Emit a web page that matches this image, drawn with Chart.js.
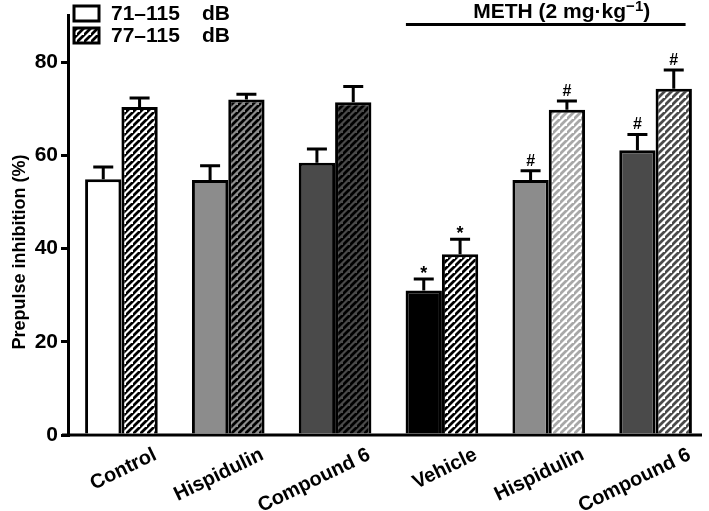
<!DOCTYPE html>
<html><head><meta charset="utf-8">
<script src="https://cdn.jsdelivr.net/npm/chart.js@4/dist/chart.umd.min.js"></script>
<style>html,body{margin:0;padding:0;background:#fff}#wrap{width:709px;height:511px;position:relative}</style>
</head><body><div id="wrap"><canvas id="c"></canvas></div>
<script>
const categories = ['Control', 'Hispidulin', 'Compound 6', 'Vehicle', 'Hispidulin', 'Compound 6'];
const seriesNames = ['71\u2013115', '77\u2013115'];
const unitLabel = 'dB';
const pi71 = [54.9, 54.7, 58.4, 31.0, 54.7, 61.1];
const err71 = [2.6, 3.1, 3.0, 2.5, 2.0, 3.4];
const pi77 = [70.4, 72.0, 71.4, 38.8, 69.8, 74.3];
const err77 = [1.9, 1.1, 3.4, 3.2, 1.9, 4.0];
const marks71 = ['', '', '', '*', '#', '#'];
const marks77 = ['', '', '', '*', '#', '#'];
const yTicks = [0, 20, 40, 60, 80];
const yTitle = 'Prepulse inhibition (%)';
const groupTitle = 'METH (2 mg\u00b7kg';
const groupSup = '\u22121';
const groupFirst = 3, groupLast = 5;

const FONT = '"Liberation Sans", Arial, Helvetica, sans-serif';
const solidColors = ['#ffffff', '#8c8c8c', '#4a4a4a', '#000000', '#8c8c8c', '#4a4a4a'];
const hatchColors = [['#ffffff', '#000000'], ['#8c8c8c', '#000000'], ['#4a4a4a', '#000000'],
                     ['#ffffff', '#000000'], ['#ffffff', '#a8a8a8'], ['#ffffff', '#4a4a4a']];

function hatch(bg, fg) {
  const p = 7;
  const t = document.createElement('canvas');
  t.width = p; t.height = p;
  const g = t.getContext('2d');
  g.fillStyle = bg; g.fillRect(0, 0, p, p);
  g.strokeStyle = fg; g.lineWidth = 2.8; g.lineCap = 'square';
  g.beginPath();
  g.moveTo(-1, p + 1); g.lineTo(p + 1, -1);
  g.moveTo(-1 - p, p + 1); g.lineTo(1, -1);
  g.moveTo(p - 1, 2 * p + 1); g.lineTo(2 * p + 1, p - 1);
  g.stroke();
  return g.createPattern(t, 'repeat');
}

const extras = {
  id: 'extras',
  beforeDatasetsDraw(chart) {
    const ctx = chart.ctx, a = chart.chartArea;
    ctx.save();
    ctx.strokeStyle = '#000'; ctx.lineWidth = 3;
    ctx.beginPath(); ctx.moveTo(a.left - 6, a.bottom); ctx.lineTo(702, a.bottom); ctx.stroke();
    ctx.restore();
  },
  afterDatasetsDraw(chart) {
    const ctx = chart.ctx, ys = chart.scales.y;
    const errs = [err71, err77], vals = [pi71, pi77], marks = [marks71, marks77];
    ctx.save();
    ctx.strokeStyle = '#000'; ctx.fillStyle = '#000'; ctx.lineWidth = 3;
    for (let d = 0; d < 2; d++) {
      const meta = chart.getDatasetMeta(d);
      meta.data.forEach((el, i) => {
        const top = el.y;
        const ey = ys.getPixelForValue(vals[d][i] + errs[d][i]);
        ctx.beginPath();
        ctx.moveTo(el.x, top); ctx.lineTo(el.x, ey);
        ctx.moveTo(el.x - 10, ey); ctx.lineTo(el.x + 10, ey);
        ctx.stroke();
        const m = marks[d][i];
        if (m) {
          ctx.font = (m === '*' ? 'bold 18px ' : 'bold 16px ') + FONT;
          ctx.textAlign = 'center'; ctx.textBaseline = 'alphabetic';
          ctx.fillText(m, el.x, ey - (m === '*' ? 0 : 5));
        }
      });
    }
    // legend
    const hp = hatch('#ffffff', '#000000');
    [[74, 6], [74, 28]].forEach((p, k) => {
      ctx.fillStyle = k === 0 ? '#fff' : hp;
      ctx.fillRect(p[0], p[1], 25, 15);
      ctx.strokeRect(p[0], p[1], 25, 15);
      ctx.fillStyle = '#000';
      ctx.font = 'bold 21px ' + FONT; ctx.textAlign = 'left'; ctx.textBaseline = 'middle';
      ctx.fillText(seriesNames[k], 111, p[1] + 8);
      ctx.fillText(unitLabel, 202, p[1] + 8);
    });
    // group title + line
    const xs = chart.scales.x;
    const x0 = xs.getPixelForValue(groupFirst) - 36, x1 = xs.getPixelForValue(groupLast) + 30;
    ctx.beginPath(); ctx.moveTo(x0, 24.5); ctx.lineTo(x1, 24.5); ctx.stroke();
    ctx.font = 'bold 21px ' + FONT;
    const w1 = ctx.measureText(groupTitle).width;
    ctx.font = 'bold 15px ' + FONT;
    const w2 = ctx.measureText(groupSup).width;
    ctx.font = 'bold 21px ' + FONT;
    const w3 = ctx.measureText(')').width;
    let sx = (x0 + x1) / 2 + 16 - (w1 + w2 + w3) / 2;
    ctx.textAlign = 'left'; ctx.textBaseline = 'alphabetic';
    ctx.fillText(groupTitle, sx, 18);
    ctx.font = 'bold 15px ' + FONT;
    ctx.fillText(groupSup, sx + w1, 11);
    ctx.font = 'bold 21px ' + FONT;
    ctx.fillText(')', sx + w1 + w2, 18);
    // y title
    ctx.translate(20, 252); ctx.rotate(-Math.PI / 2);
    ctx.font = 'bold 18px ' + FONT; ctx.textAlign = 'center'; ctx.textBaseline = 'middle';
    ctx.fillText(yTitle, 0, 0);
    ctx.restore();
  }
};

new Chart(document.getElementById('c'), {
  type: 'bar',
  data: {
    labels: categories,
    datasets: [
      { label: seriesNames[0] + ' ' + unitLabel, data: pi71, backgroundColor: solidColors,
        borderColor: '#000', borderWidth: 3, borderSkipped: 'bottom' },
      { label: seriesNames[1] + ' ' + unitLabel, data: pi77,
        backgroundColor: hatchColors.map(c => hatch(c[0], c[1])),
        borderColor: '#000', borderWidth: 3, borderSkipped: 'bottom' }
    ]
  },
  options: {
    responsive: true, maintainAspectRatio: false, animation: false,
    devicePixelRatio: 1,
    layout: { padding: { top: 10, right: 0, left: 0, bottom: 0 } },
    categoryPercentage: 0.68, barPercentage: 1.0,
    plugins: { legend: { display: false }, tooltip: { enabled: false } },
    scales: {
      x: {
        grid: { display: false },
        border: { display: false },
        ticks: { color: '#000', font: { family: FONT, size: 20, weight: 'bold' },
                 maxRotation: 26, minRotation: 26, autoSkip: false, labelOffset: 34, padding: 0 },
        afterFit: s => { s.height = 76; }
      },
      y: {
        min: 0, max: 90,
        afterBuildTicks: s => { s.ticks = yTicks.map(v => ({ value: v })); },
        grid: { display: true, drawOnChartArea: false, drawTicks: true, tickLength: 7,
                tickWidth: 3, tickColor: '#000', color: '#000', lineWidth: 3 },
        border: { display: true, color: '#000', width: 3 },
        ticks: { color: '#000', font: { family: FONT, size: 21, weight: 'bold' }, padding: 3 },
        afterFit: s => { s.width = 68; }
      }
    }
  },
  plugins: [extras]
});
</script></body></html>
